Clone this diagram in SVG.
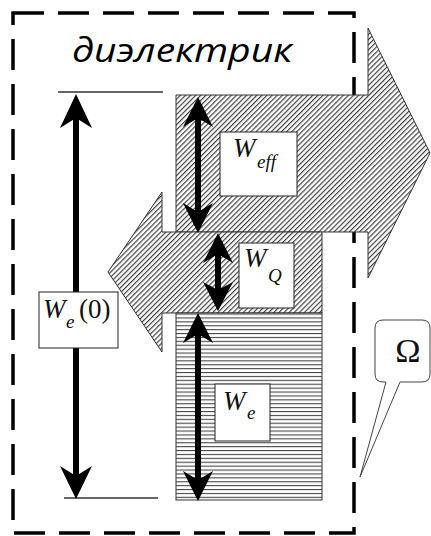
<svg xmlns="http://www.w3.org/2000/svg" width="431" height="536" viewBox="0 0 431 536">
  <defs>
    <pattern id="hatchDiag" width="3.6" height="3.6" patternUnits="userSpaceOnUse" patternTransform="rotate(45)">
      <rect width="3.6" height="3.6" fill="#fff"/>
      <line x1="0.6" y1="0" x2="0.6" y2="3.6" stroke="#333" stroke-width="1.1"/>
    </pattern>
    <pattern id="hatchHoriz" width="4" height="3.9" patternUnits="userSpaceOnUse" y="313.5">
      <rect width="4" height="3.9" fill="#fff"/>
      <line x1="0" y1="0.6" x2="4" y2="0.6" stroke="#333" stroke-width="1"/>
    </pattern>
  </defs>
  <style>
    .frame { fill: none; stroke: #000; stroke-width: 3.5; stroke-dasharray: 31 14; }
    .flow { stroke: #333; stroke-width: 1; }
    .shaft { stroke: #000; stroke-width: 6; fill: none; }
    .head { fill: #000; }
    .tick { stroke: #333; stroke-width: 1.6; }
    .label { fill: #fff; stroke: #222; stroke-width: 1; }
    .sym { font-family: "Liberation Serif", "Times New Roman", serif; font-style: italic; fill: #111; }
    .big { font-size: 27px; }
    .sub { font-size: 19px; }
    .up { font-style: normal; }
    .title { font-family: "Open Sans", "Noto Sans", sans-serif; font-style: italic; font-size: 33px; fill: #000; }
  </style>

  <!-- region boundary -->
  <g id="boundary">
    <rect class="frame" x="13" y="13" width="341" height="520"/>
    <text class="title" x="72" y="62" textLength="220" lengthAdjust="spacingAndGlyphs">диэлектрик</text>
  </g>

  <!-- outgoing energy flow -->
  <g id="flow-out">
    <polygon class="flow" fill="url(#hatchDiag)" points="176,95 368,95 368,28 430,153 368,278 368,232 176,232"/>
  </g>

  <!-- incoming (returned) energy flow -->
  <g id="flow-in">
    <polygon class="flow" fill="url(#hatchDiag)" points="322,232 162,232 162,192 108,272 162,352 162,313 322,313"/>
  </g>

  <!-- stored energy -->
  <g id="stored">
    <rect class="flow" fill="url(#hatchHoriz)" x="176" y="313" width="146" height="187"/>
  </g>

  <!-- dimension arrows -->
  <g id="connectors">
    <line class="tick" x1="58" y1="92" x2="163" y2="92"/>
    <line class="tick" x1="64" y1="498" x2="158" y2="498"/>

    <!-- total W_e(0) -->
    <line class="shaft" x1="76" y1="112" x2="76" y2="482"/>
    <path class="head" d="M76,94 L92,128 L76,118 L60,128 Z"/>
    <path class="head" d="M76,499 L92,466 L76,476 L60,466 Z"/>

    <!-- W_eff -->
    <line class="shaft" x1="198" y1="114" x2="198" y2="216"/>
    <path class="head" d="M198,97 L213,127 L198,118 L183,127 Z"/>
    <path class="head" d="M198,233 L213,203 L198,212 L183,203 Z"/>

    <!-- W_Q -->
    <line class="shaft" x1="218" y1="250" x2="218" y2="294"/>
    <path class="head" d="M218,233 L233,263 L218,254 L203,263 Z"/>
    <path class="head" d="M218,311 L233,282 L218,290 L203,282 Z"/>

    <!-- W_e -->
    <line class="shaft" x1="198" y1="330" x2="198" y2="484"/>
    <path class="head" d="M198,313 L213,343 L198,334 L183,343 Z"/>
    <path class="head" d="M198,501 L213,471 L198,480 L183,471 Z"/>
  </g>

  <g id="label-We0">
    <rect class="label" x="39" y="292" width="79" height="56"/>
    <text class="sym big" x="43" y="318">W</text>
    <text class="sym sub" x="66" y="328">e</text>
    <text class="sym big up" x="79" y="318">(0)</text>
  </g>

  <g id="label-Weff">
    <rect class="label" x="220" y="132" width="77" height="64"/>
    <text class="sym big" x="233" y="157">W</text>
    <text class="sym sub" x="257" y="168">eff</text>
  </g>

  <g id="label-WQ">
    <rect class="label" x="239" y="243" width="55" height="65"/>
    <text class="sym big" x="244" y="267">W</text>
    <text class="sym sub" x="268" y="282">Q</text>
  </g>

  <g id="label-We">
    <rect class="label" x="215" y="384" width="55" height="57"/>
    <text class="sym big" x="223" y="410">W</text>
    <text class="sym sub" x="247" y="419">e</text>
  </g>

  <!-- region name callout -->
  <g id="callout-omega">
    <path d="M383,320 H422 Q430,320 430,328 V374 Q430,382 422,382 H400 L360,477 L386,382 H383 Q375,382 375,374 V328 Q375,320 383,320 Z" fill="#fff" stroke="#444" stroke-width="1"/>
    <text x="408" y="362" text-anchor="middle" font-family="Liberation Serif, Times New Roman, serif" font-size="34" fill="#111">Ω</text>
  </g>
</svg>
